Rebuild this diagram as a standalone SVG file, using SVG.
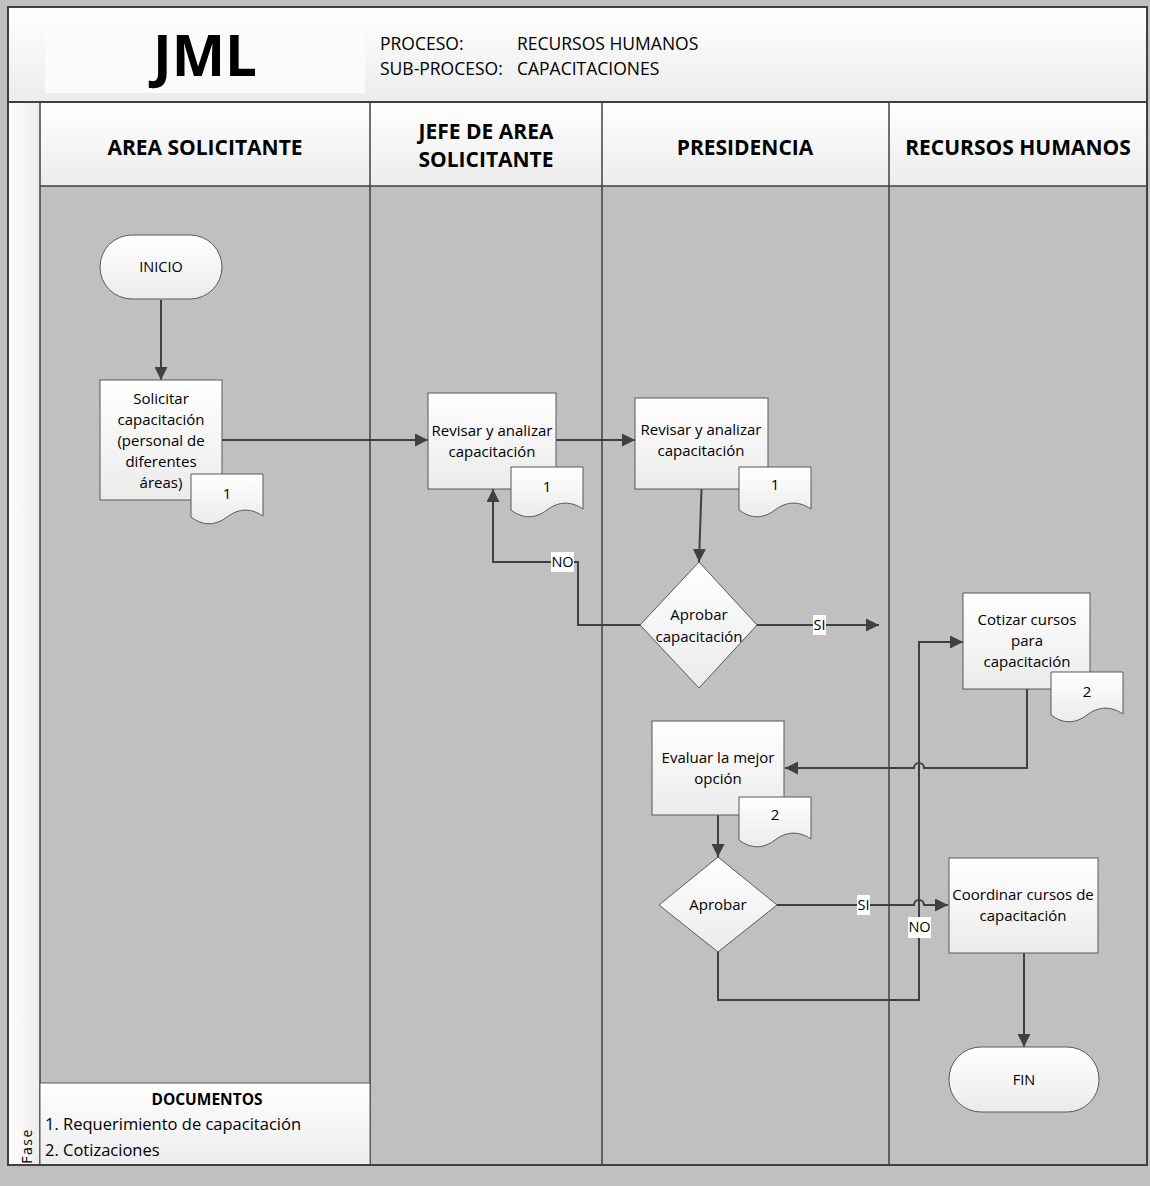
<svg xmlns="http://www.w3.org/2000/svg" width="1150" height="1186" viewBox="0 0 1150 1186">
<defs>
  <linearGradient id="gNode" x1="0" y1="0" x2="0" y2="1">
    <stop offset="0" stop-color="#ffffff"/>
    <stop offset="1" stop-color="#ebebeb"/>
  </linearGradient>
  <linearGradient id="gHead" x1="0" y1="0" x2="0" y2="1">
    <stop offset="0" stop-color="#ffffff"/>
    <stop offset="1" stop-color="#ececec"/>
  </linearGradient>
  <linearGradient id="gFase" x1="0" y1="0" x2="1" y2="0">
    <stop offset="0" stop-color="#ffffff"/>
    <stop offset="1" stop-color="#ededed"/>
  </linearGradient>
  <path id="docShape" d="M0,0 H72 V42 C60,34 48,34 36,43 C24,52 12,52 0,43 Z"/>
  <marker id="ah" viewBox="0 0 13 13" refX="13" refY="6.5" markerWidth="13" markerHeight="13" markerUnits="userSpaceOnUse" orient="auto">
    <path d="M0,0 L13,6.5 L0,13 Z" fill="#404040"/>
  </marker>
</defs>
<style>
  text { font-family: "Open Sans", "Liberation Sans", sans-serif; fill: #000; }
  .node { fill: url(#gNode); stroke: #595959; stroke-width: 1; }
  .t { font-size: 15px; text-anchor: middle; }
  .lane { font-size: 21px; font-weight: bold; text-anchor: middle; }
  .hdr { font-size: 17.5px; }
  .lbl { font-size: 14.5px; text-anchor: middle; }
  .lblbg { fill: #ffffff; }
  .conn { fill: none; stroke: #404040; stroke-width: 2; }
  .arr { marker-end: url(#ah); }
  .frame { fill: none; stroke: #404040; stroke-width: 2; }
  .laneline { stroke: #404040; stroke-width: 1.5; }
</style>

<!-- background -->
<rect x="0" y="0" width="1150" height="1186" fill="#c0c0c0"/>

<g id="header">
  <rect x="8" y="7" width="1139" height="95" fill="url(#gHead)"/>
  <rect x="45" y="21" width="320" height="72" fill="#fbfbfb"/>
  <text x="205" y="76" font-size="57" font-weight="bold" text-anchor="middle" textLength="104" lengthAdjust="spacingAndGlyphs">JML</text>
  <text class="hdr" x="380" y="50">PROCESO:</text>
  <text class="hdr" x="517" y="50">RECURSOS HUMANOS</text>
  <text class="hdr" x="380" y="75">SUB-PROCESO:</text>
  <text class="hdr" x="517" y="75">CAPACITACIONES</text>
</g>

<g id="lanes">
  <rect x="8" y="102" width="32" height="1063" fill="url(#gFase)"/>
  <rect x="40" y="102" width="1107" height="84" fill="url(#gHead)"/>
  <rect x="40" y="186" width="1107" height="979" fill="#c0c0c0"/>
  <text class="lane" x="205" y="155">AREA SOLICITANTE</text>
  <text class="lane" x="486" y="139">JEFE DE AREA</text>
  <text class="lane" x="486" y="167">SOLICITANTE</text>
  <text class="lane" x="745" y="155">PRESIDENCIA</text>
  <text class="lane" x="1018" y="155">RECURSOS HUMANOS</text>
  <line class="laneline" x1="40" y1="102" x2="40" y2="1165"/>
  <line class="laneline" x1="370" y1="102" x2="370" y2="1165"/>
  <line class="laneline" x1="602" y1="102" x2="602" y2="1165"/>
  <line class="laneline" x1="889" y1="102" x2="889" y2="1165"/>
  <line class="laneline" x1="40" y1="186" x2="1147" y2="186"/>
  <line x1="8" y1="102" x2="1147" y2="102" stroke="#404040" stroke-width="2"/>
  <text x="26" y="1146" font-size="14" text-anchor="middle" letter-spacing="1.5" transform="rotate(-90 26 1146)" dominant-baseline="central">Fase</text>
</g>

<g id="documentos">
  <rect x="40" y="1083" width="330" height="82" fill="url(#gHead)" stroke="#595959" stroke-width="1"/>
  <text x="207" y="1105" font-size="15.5" font-weight="bold" text-anchor="middle">DOCUMENTOS</text>
  <text x="45" y="1130" font-size="16.5">1. Requerimiento de capacitación</text>
  <text x="45" y="1156" font-size="16.5">2. Cotizaciones</text>
</g>

<rect class="frame" x="8" y="7" width="1139" height="1158"/>

<g id="connectors">
  <path class="conn arr" d="M161,300 V380"/>
  <path class="conn arr" d="M222,440 H428"/>
  <path class="conn arr" d="M556,440 H635"/>
  <path class="conn arr" d="M701.5,489 L699,562"/>
  <path class="conn arr" d="M640,625 H578 V562 H493 V489"/>
  <path class="conn arr" d="M757,625 H879"/>
  <path class="conn arr" d="M1027,689 V768 H924 A5,5 0 0 0 914,768 H785"/>
  <path class="conn arr" d="M718,815 V857"/>
  <path class="conn arr" d="M777,905 H914 A5,5 0 0 1 924,905 H948"/>
  <path class="conn arr" d="M718,952 V1000 H919 V642 H963"/>
  <path class="conn arr" d="M1024,953 V1047"/>
  <g id="labels">
    <rect class="lblbg" x="551" y="552" width="23" height="20"/>
    <text class="lbl" x="562.5" y="567">NO</text>
    <rect class="lblbg" x="813" y="615" width="13" height="20"/>
    <text class="lbl" x="819.5" y="630">SI</text>
    <rect class="lblbg" x="857" y="895" width="13" height="20"/>
    <text class="lbl" x="863.5" y="910">SI</text>
    <rect class="lblbg" x="908" y="917" width="23" height="21"/>
    <text class="lbl" x="919.5" y="932">NO</text>
  </g>
</g>

<g id="inicio">
  <rect class="node" x="100" y="235" width="122" height="64" rx="32" ry="32"/>
  <text class="lbl" x="161" y="272">INICIO</text>
</g>

<g id="solicitar">
  <rect class="node" x="100" y="380" width="122" height="120"/>
  <text class="t" x="161" y="404">Solicitar</text>
  <text class="t" x="161" y="425">capacitación</text>
  <text class="t" x="161" y="446">(personal de</text>
  <text class="t" x="161" y="467">diferentes</text>
  <text class="t" x="161" y="488">áreas)</text>
  <use href="#docShape" x="191" y="474" class="node"/>
  <text class="t" x="227" y="499">1</text>
</g>

<g id="revisar-jefe">
  <rect class="node" x="428" y="393" width="128" height="96"/>
  <text class="t" x="492" y="436">Revisar y analizar</text>
  <text class="t" x="492" y="457">capacitación</text>
  <use href="#docShape" x="511" y="467" class="node"/>
  <text class="t" x="547" y="492">1</text>
</g>

<g id="revisar-presidencia">
  <rect class="node" x="635" y="398" width="133" height="91"/>
  <text class="t" x="701" y="435">Revisar y analizar</text>
  <text class="t" x="701" y="456">capacitación</text>
  <use href="#docShape" x="739" y="467" class="node"/>
  <text class="t" x="775" y="490">1</text>
</g>

<g id="aprobar-capacitacion">
  <polygon class="node" points="699,562 757,625 699,688 640,625"/>
  <text class="t" x="699" y="620">Aprobar</text>
  <text class="t" x="699" y="642">capacitación</text>
</g>

<g id="cotizar">
  <rect class="node" x="963" y="593" width="127" height="96"/>
  <text class="t" x="1027" y="625">Cotizar cursos</text>
  <text class="t" x="1027" y="646">para</text>
  <text class="t" x="1027" y="667">capacitación</text>
  <use href="#docShape" x="1051" y="672" class="node"/>
  <text class="t" x="1087" y="697">2</text>
</g>

<g id="evaluar">
  <rect class="node" x="652" y="721" width="132" height="94"/>
  <text class="t" x="718" y="763">Evaluar la mejor</text>
  <text class="t" x="718" y="784">opción</text>
  <use href="#docShape" x="739" y="797" class="node"/>
  <text class="t" x="775" y="820">2</text>
</g>

<g id="aprobar">
  <polygon class="node" points="718,857 777,905 718,952 659,905"/>
  <text class="t" x="718" y="910">Aprobar</text>
</g>

<g id="coordinar">
  <rect class="node" x="949" y="858" width="149" height="95"/>
  <text class="t" x="1023" y="900">Coordinar cursos de</text>
  <text class="t" x="1023" y="921">capacitación</text>
</g>

<g id="fin">
  <rect class="node" x="949" y="1047" width="150" height="65" rx="32" ry="32"/>
  <text class="lbl" x="1024" y="1085">FIN</text>
</g>
</svg>
